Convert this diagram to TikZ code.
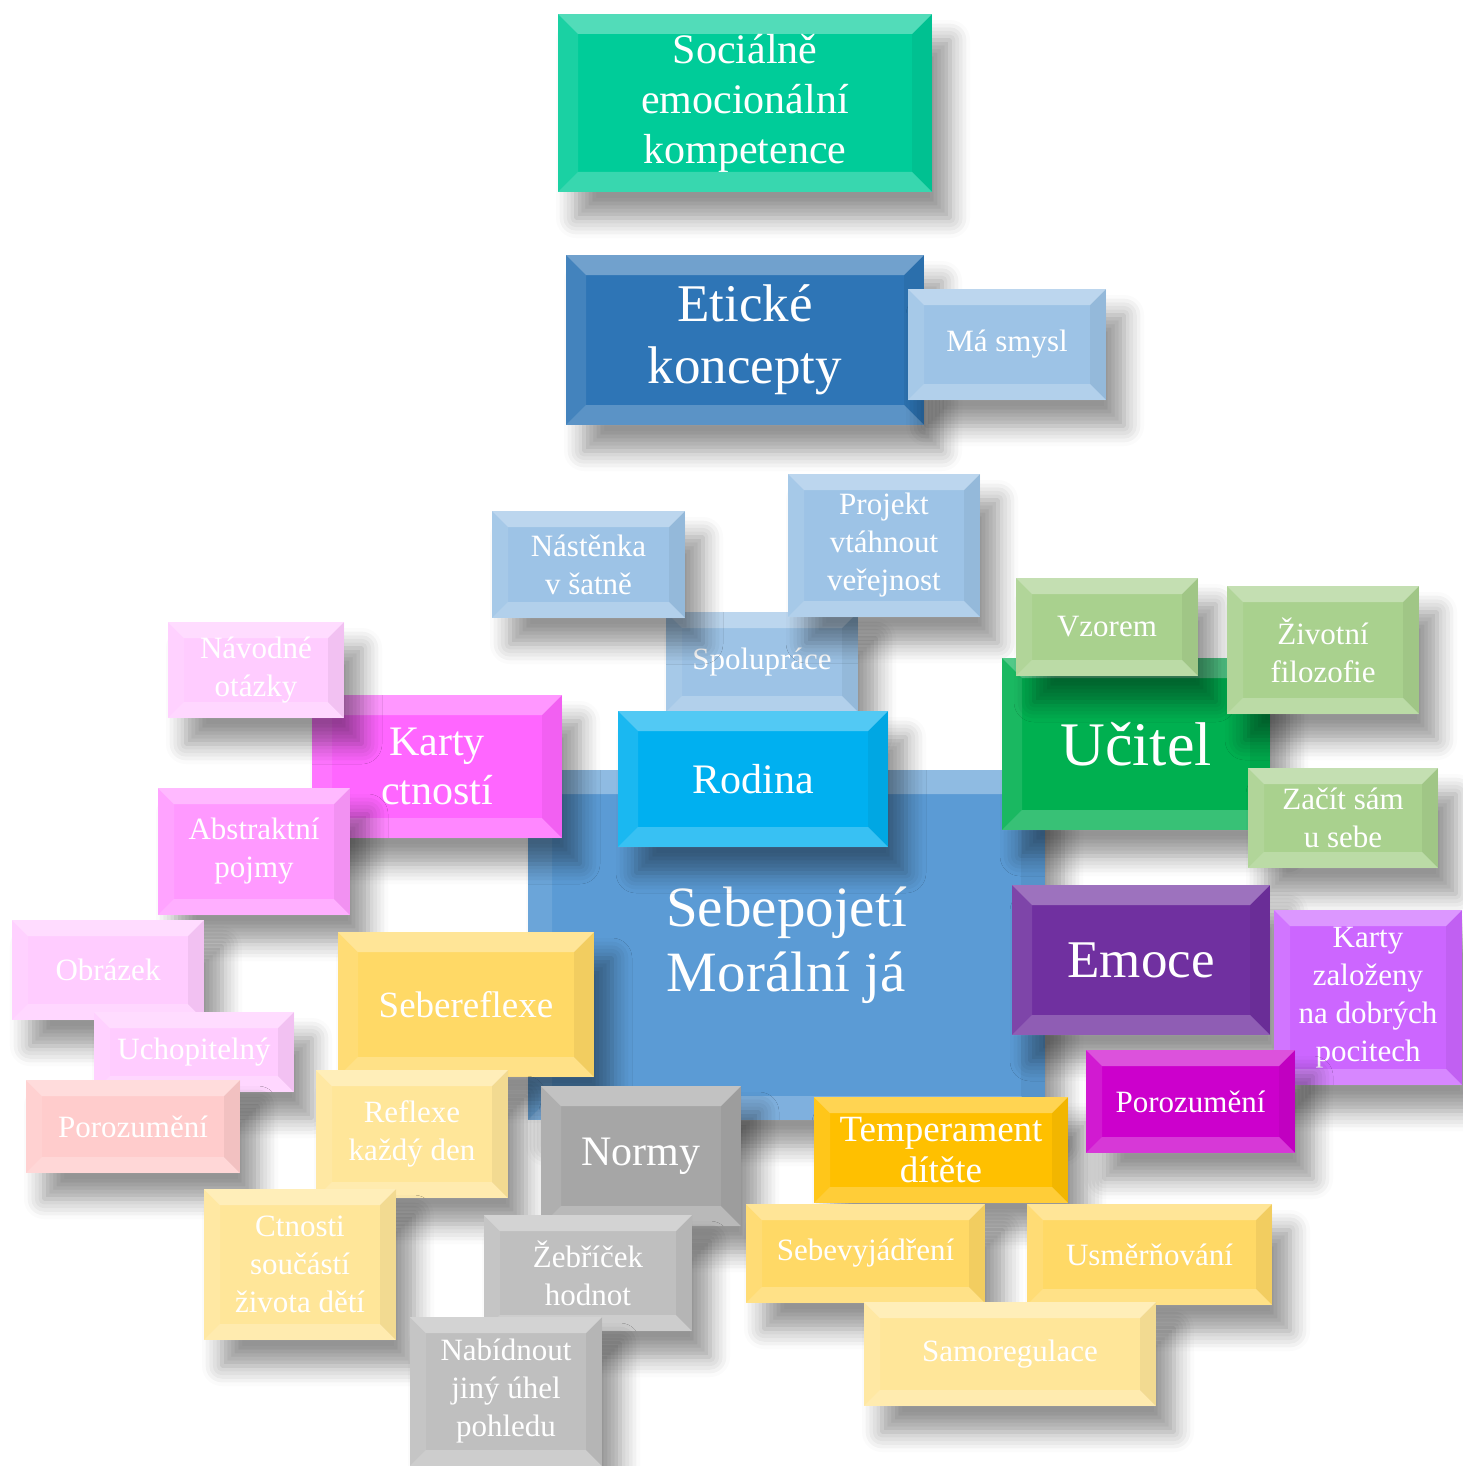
\documentclass[tikz,border=0pt]{standalone}
\usepackage{fontspec}
\setmainfont{Liberation Serif}
\usetikzlibrary{shadows.blur}
\definecolor{tealc}{HTML}{00CC99}
\definecolor{darkblue}{HTML}{2E75B6}
\definecolor{lightblue}{HTML}{9DC3E6}
\definecolor{cyanc}{HTML}{00B0F0}
\definecolor{midblue}{HTML}{5B9BD5}
\definecolor{magc}{HTML}{FF66FF}
\definecolor{palepink}{HTML}{FFCCFF}
\definecolor{pinkc}{HTML}{FF99FF}
\definecolor{salmon}{HTML}{FFCCCC}
\definecolor{gold}{HTML}{FFD966}
\definecolor{palegold}{HTML}{FFE699}
\definecolor{greyc}{HTML}{A6A6A6}
\definecolor{palegrey}{HTML}{BFBFBF}
\definecolor{orangec}{HTML}{FFC000}
\definecolor{greenc}{HTML}{00B050}
\definecolor{palegreen}{HTML}{A9D18E}
\definecolor{purplec}{HTML}{7030A0}
\definecolor{violetc}{HTML}{CC66FF}
\definecolor{deepmag}{HTML}{CC00CC}
\tikzset{
    bevel/.style = {path picture = {
        \fill[white, opacity = 0.32] (path picture bounding box.north west) -- (path picture bounding box.north east)
            -- ([xshift = -#1, yshift = -#1]path picture bounding box.north east) -- ([xshift = #1, yshift = -#1]path picture bounding box.north west) -- cycle;
        \fill[white, opacity = 0.22] (path picture bounding box.south west) -- (path picture bounding box.south east)
            -- ([xshift = -#1, yshift = #1]path picture bounding box.south east) -- ([xshift = #1, yshift = #1]path picture bounding box.south west) -- cycle;
        \fill[white, opacity = 0.1] (path picture bounding box.north west) -- (path picture bounding box.south west)
            -- ([xshift = #1, yshift = #1]path picture bounding box.south west) -- ([xshift = #1, yshift = -#1]path picture bounding box.north west) -- cycle;
        \fill[black, opacity = 0.05] (path picture bounding box.north east) -- (path picture bounding box.south east)
            -- ([xshift = -#1, yshift = #1]path picture bounding box.south east) -- ([xshift = -#1, yshift = -#1]path picture bounding box.north east) -- cycle;
    }},
    box/.style = {rectangle, inner sep = 0pt, text = white, align = center, bevel = 16pt,
        blur shadow = {shadow xshift = 18pt, shadow yshift = -26pt, shadow blur radius = 20pt,
            shadow blur steps = 6, shadow opacity = 42}},
    sz/.style 2 args = {minimum width = #1pt, minimum height = #2pt},
    small/.style = {font = \fontsize{31}{38}\selectfont},
    medium/.style = {font = \fontsize{37}{41}\selectfont},
    large/.style = {font = \fontsize{42}{49}\selectfont},
    huge/.style = {font = \fontsize{53}{62}\selectfont},
    giant/.style = {font = \fontsize{57}{65}\selectfont}
}
\begin{document}
\begin{tikzpicture}[x = 1pt, y = 1pt]
    \useasboundingbox (0,0) rectangle (1462,-1466);
    \node [box, fill = tealc, sz = {374}{178}, bevel = 20pt, font = \fontsize{42}{50}\selectfont] (kompetence) at (745,-103) {Sociálně\\emocionální\\kompetence};
    \node [box, fill = darkblue, sz = {358}{170}, bevel = 20pt, huge] (koncepty) at (745,-340) {Etické\\koncepty};
    \node [box, fill = lightblue, sz = {198}{111}, small] (smysl) at (1007,-344.5) {Má smysl};
    \node [box, fill = midblue, sz = {517}{350}, bevel = 24pt, giant] (ja) at (786.5,-945) {Sebepojetí\\Morální já};
    \node [box, fill = lightblue, sz = {192}{100}, small] (spoluprace) at (762,-662) {Spolupráce};
    \node [box, fill = cyanc, sz = {270}{136}, bevel = 20pt, large] (rodina) at (753,-779) {Rodina};
    \node [box, fill = lightblue, sz = {193}{107}, small] (nastenka) at (588.5,-564.5) {Nástěnka\\v šatně};
    \node [box, fill = lightblue, sz = {192}{143}, small] (projekt) at (884,-545.5) {Projekt\\vtáhnout\\veřejnost};
    \node [box, fill = magc, sz = {250}{143}, bevel = 20pt, large] (karty) at (437,-766.5) {Karty\\ctností};
    \node [box, fill = palepink, sz = {176}{96}, small] (otazky) at (256,-670) {Návodné\\otázky};
    \node [box, fill = pinkc, sz = {192}{127}, small] (pojmy) at (254,-851.5) {Abstraktní\\pojmy};
    \node [box, fill = palepink, sz = {192}{100}, small] (obrazek) at (108,-970) {Obrázek};
    \node [box, fill = palepink, sz = {200}{80}, small] (uchopitelny) at (194,-1052) {Uchopitelný};
    \node [box, fill = salmon, sz = {214}{93}, small] (porozumeni1) at (133,-1126.5) {Porozumění};
    \node [box, fill = gold, sz = {256}{145}, bevel = 20pt, medium] (sebereflexe) at (466,-1004.5) {Sebereflexe};
    \node [box, fill = palegold, sz = {192}{128}, small] (reflexe) at (412,-1134) {Reflexe\\každý den};
    \node [box, fill = palegold, sz = {192}{151}, small] (ctnosti) at (300,-1264.5) {Ctnosti\\součástí\\života dětí};
    \node [box, fill = greyc, sz = {200}{140}, bevel = 20pt, large] (normy) at (641,-1156) {Normy};
    \node [box, fill = palegrey, sz = {208}{116}, small] (zebricek) at (588,-1273) {Žebříček\\hodnot};
    \node [box, fill = palegrey, sz = {192}{149}, small] (pohled) at (506,-1391.5) {Nabídnout\\jiný úhel\\pohledu};
    \node [box, fill = orangec, sz = {254}{106}, medium] (temperament) at (941,-1150) {Temperament\\dítěte};
    \node [box, fill = gold, sz = {239}{99}, small] (sebevyjadreni) at (865.5,-1253.5) {Sebevyjádření};
    \node [box, fill = gold, sz = {245}{101}, small] (usmernovani) at (1149.5,-1254.5) {Usměrňování};
    \node [box, fill = palegold, sz = {292}{104}, small] (samoregulace) at (1010,-1354) {Samoregulace};
    \node [box, fill = greenc, sz = {268}{172}, bevel = 20pt, font = \fontsize{62}{70}\selectfont] (ucitel) at (1136,-744) {Učitel};
    \node [box, fill = palegreen, sz = {182}{98}, small] (vzorem) at (1107,-627) {Vzorem};
    \node [box, fill = palegreen, sz = {192}{128}, small] (filozofie) at (1323,-650) {Životní\\filozofie};
    \node [box, fill = palegreen, sz = {190}{100}, small] (zacit) at (1343,-818) {Začít sám\\u sebe};
    \node [box, fill = purplec, sz = {258}{150}, bevel = 20pt, huge] (emoce) at (1141,-960) {Emoce};
    \node [box, fill = violetc, sz = {188}{175}, small] (pocity) at (1368,-997.5) {Karty\\založeny\\na dobrých\\pocitech};
    \node [box, fill = deepmag, sz = {209}{103}, small] (porozumeni2) at (1190.5,-1101.5) {Porozumění};
\end{tikzpicture}
\end{document}
